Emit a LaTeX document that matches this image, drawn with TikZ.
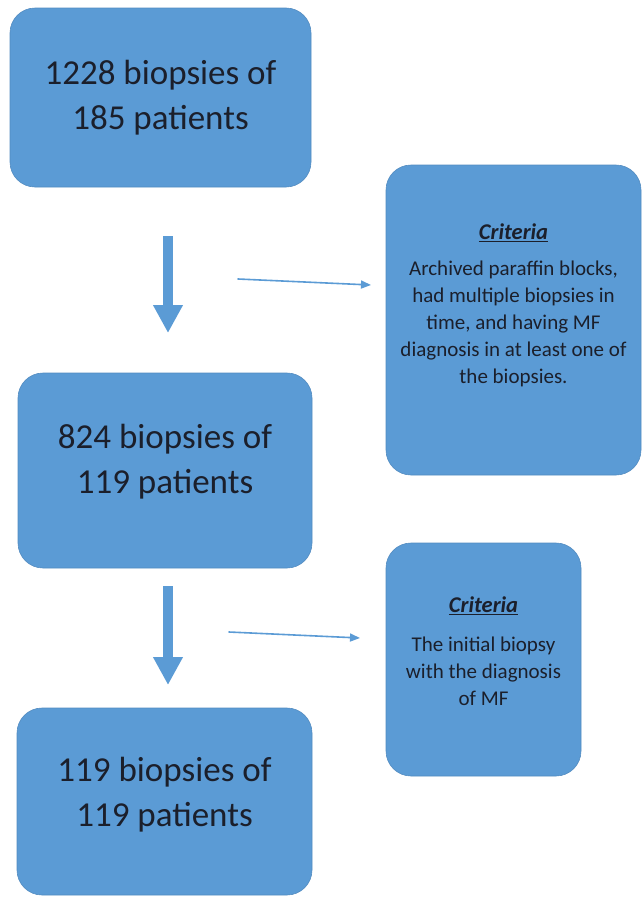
\documentclass[tikz,border=0pt]{standalone}
\usepackage{fontspec}
\setmainfont{Carlito}
\usepackage{xcolor}
\usetikzlibrary{arrows.meta,positioning}
\definecolor{boxblue}{HTML}{5B9BD5}
\definecolor{inkdark}{HTML}{1B1F2B}

\begin{document}
\begin{tikzpicture}[x=1pt,y=-1pt,line cap=round,
  stage/.style={draw=boxblue!90!black,line width=.6pt,fill=boxblue,rounded corners=25pt,
    align=center,text=inkdark,font=\fontsize{35}{45}\selectfont},
  critbox/.style={draw=boxblue!90!black,line width=.6pt,fill=boxblue,rounded corners=25pt},
  crittext/.style={align=center,text=inkdark,font=\fontsize{21}{27}\selectfont},
  bigarrow/.style={draw=boxblue,line width=10pt,line cap=butt,-{Triangle[width=28pt,length=28pt]}},
  thinarrow/.style={draw=boxblue,line width=1.6pt,-{Triangle[width=8pt,length=10pt]}}]
  \useasboundingbox (0,0) rectangle (642,897);
  % Stages of the selection
  \node[stage,minimum width=301pt,minimum height=179pt] (all) at (160.5,97.5)
    {1228 biopsies of\\185 patients};
  \node[stage,minimum width=294pt,minimum height=195pt,text depth=24pt] (multi) at (165,470.5)
    {824 biopsies of\\119 patients};
  \node[stage,minimum width=295pt,minimum height=187pt,text depth=20pt] (initial) at (164.5,801.5)
    {119 biopsies of\\119 patients};
  % Criteria boxes
  \node[critbox,minimum width=255pt,minimum height=310pt] (critA) at (513.5,320) {};
  \node[crittext] (critAtext) at (513.5,305)
    {{\fontsize{22.5}{27}\selectfont\textbf{\textit{\underline{Criteria}}}}\\[9pt]
     Archived paraffin blocks,\\had multiple biopsies in\\time, and having MF\\
     diagnosis in at least one of\\the biopsies.};
  \node[critbox,minimum width=195pt,minimum height=233pt] (critB) at (483.5,659.5) {};
  \node[crittext] (critBtext) at (483.5,651)
    {{\fontsize{22.5}{27}\selectfont\textbf{\textit{\underline{Criteria}}}}\\[12pt]
     The initial biopsy\\with the diagnosis\\of MF};
  % Arrows between the stages
  \coordinate (downA0) at (168,236);
  \coordinate (downA1) at (168,333);
  \coordinate (downB0) at (168,586);
  \coordinate (downB1) at (168,685);
  \draw[bigarrow] (downA0)--(downA1);
  \draw[bigarrow] (downB0)--(downB1);
  \coordinate (sideA0) at (238,279);
  \coordinate (sideA1) at (371,285);
  \coordinate (sideB0) at (229,632);
  \coordinate (sideB1) at (360,638);
  \draw[thinarrow] (sideA0)--(sideA1);
  \draw[thinarrow] (sideB0)--(sideB1);
\end{tikzpicture}
\end{document}
